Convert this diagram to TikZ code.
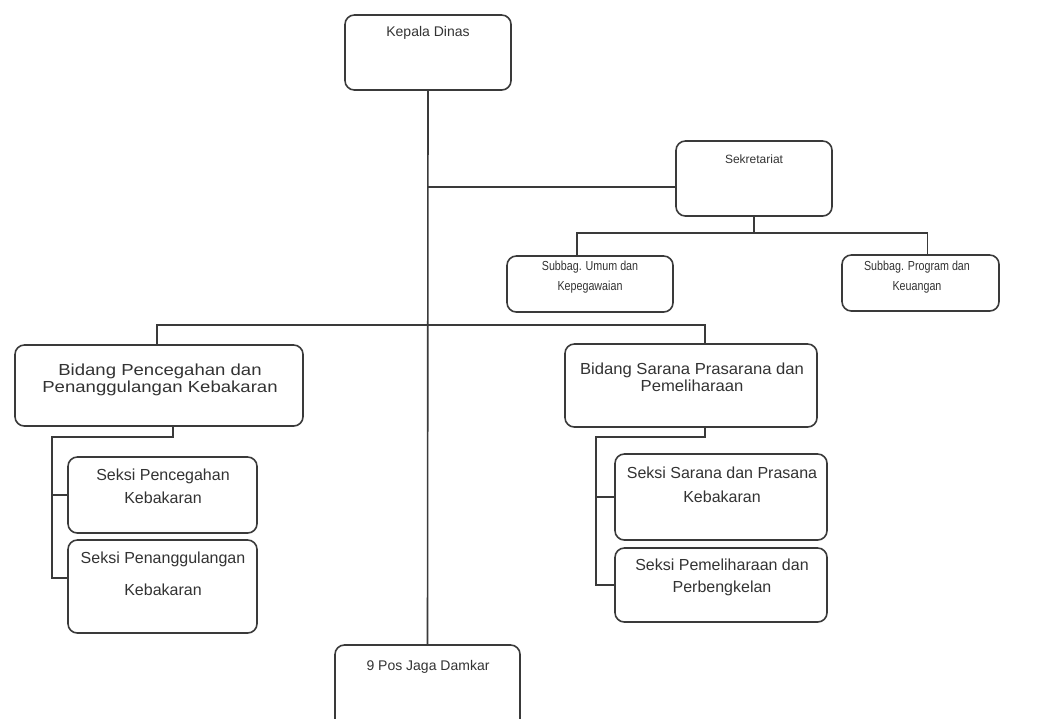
\documentclass[tikz,border=0pt]{standalone}
\usepackage{fontspec}
\setmainfont{Liberation Sans}
\newfontfamily\widefam{Liberation Sans}[FakeStretch=1.16]
\newfontfamily\midfam{Liberation Sans}[FakeStretch=1.04]
\newfontfamily\narrowfam{Liberation Sans}[FakeStretch=0.82]
\usetikzlibrary{calc}
\definecolor{lc}{HTML}{3A3A3A}
\definecolor{tc}{HTML}{333333}
\begin{document}
\begin{tikzpicture}[x=0.75pt,y=-0.75pt,
  box/.style={draw=lc, line width=1.2pt, rounded corners=7pt, inner sep=0pt, fill=white},
  bx/.style 2 args={box, minimum width=#1*0.75pt, minimum height=#2*0.75pt},
  txt/.style={inner sep=0pt, align=center, text=tc},
  conn/.style={draw=lc, line width=1.2pt}]
\clip (0,0) rectangle (1037,718);
\fill[white] (0,0) rectangle (1037,718);

% boxes
\node[bx={166}{75}] (kd) at (428,52.5) {};
\node[bx={156}{75}] (sek) at (754,178.5) {};
\node[bx={166}{56}] (su) at (590,284) {};
\node[bx={157}{56}] (spb) at (920.5,283) {};
\node[bx={288}{81}] (bp) at (159,385.5) {};
\node[bx={252}{83}] (bs) at (691,385.5) {};
\node[bx={189}{76}] (sp) at (162.5,495) {};
\node[bx={189}{93}] (spg) at (162.5,586.5) {};
\node[bx={212}{86}] (ss) at (721,497) {};
\node[bx={212}{74}] (spm) at (721,585) {};
\node[bx={185}{85}] (pos) at (427.5,687.5) {};

% texts
\node[txt, font=\fontsize{10.5}{12}\selectfont] (kdt) at (428,33) {Kepala Dinas};
\node[txt, font=\fontsize{9}{11}\selectfont] (sekt) at (754,159) {Sekretariat};
\node[txt, font=\narrowfam\fontsize{9.8}{15}\selectfont] (sut) at (590,277) {Subbag. Umum dan\\Kepegawaian};
\node[txt, font=\narrowfam\fontsize{9.8}{15}\selectfont] (spbt) at (917,277) {Subbag. Program dan\\Keuangan};
\node[txt, font=\widefam\fontsize{12}{12.5}\selectfont] (bpt) at (160,380) {Bidang Pencegahan dan\\Penanggulangan Kebakaran};
\node[txt, font=\midfam\fontsize{12}{12.5}\selectfont] (bst) at (692,377) {Bidang Sarana Prasarana dan\\Pemeliharaan};
\node[txt, font=\fontsize{12}{17}\selectfont] (spt) at (163,486) {Seksi Pencegahan\\Kebakaran};
\node[txt, font=\fontsize{12}{24}\selectfont] (spgt) at (163,574) {Seksi Penanggulangan\\Kebakaran};
\node[txt, font=\fontsize{12}{18}\selectfont] (sst) at (722,485) {Seksi Sarana dan Prasana\\Kebakaran};
\node[txt, font=\fontsize{12}{16}\selectfont] (spmt) at (722,577.5) {Seksi Pemeliharaan dan\\Perbengkelan};
\node[txt, font=\fontsize{10.5}{12}\selectfont] (post) at (428,667) {9 Pos Jaga Damkar};

% junction coordinates
\coordinate (j1) at (428,187);
\coordinate (j2) at (757,233);
\coordinate (j3) at (428,325);
\coordinate (l1) at (52,437);
\coordinate (l2) at (52,578);
\coordinate (r1) at (596,437);
\coordinate (r2) at (596,585);

% connectors
\draw[conn] (kd.south) -- (pos.north);
\draw[conn] (j1) -- (j1 -| sek.west);
\draw[conn] (sek.south) -- (sek.south |- j2);
\draw[conn] ($(su.north)+(-13,0)$) |- (j2) -| ($(spb.north)+(7,0)$);
\draw[conn] ($(bp.north)+(-2,0)$) |- (j3) -| ($(bs.north)+(14,0)$);
\draw[conn] ($(bp.south)+(14,0)$) |- (l1) -- (l2) -- (l2 -| spg.west);
\draw[conn] (l1 |- sp.west) -- (sp.west);
\draw[conn] ($(bs.south)+(14,0)$) |- (r1) -- (r2) -- (r2 -| spm.west);
\draw[conn] (r1 |- ss.west) -- (ss.west);
\end{tikzpicture}
\end{document}
